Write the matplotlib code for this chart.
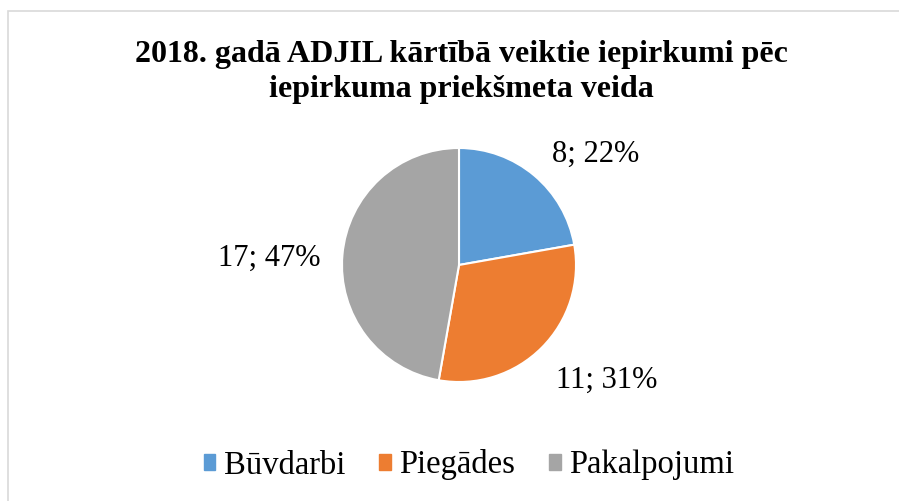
import matplotlib
matplotlib.use("Agg")
import matplotlib.pyplot as plt
from matplotlib.patches import Rectangle
import numpy as np

categories = ["Būvdarbi", "Piegādes", "Pakalpojumi"]
values = [8, 11, 17]
title_lines = ["2018. gadā ADJIL kārtībā veiktie iepirkumi pēc",
               "iepirkuma priekšmeta veida"]

colors = ["#5B9BD5", "#ED7D31", "#A5A5A5"]
# label placement (angle in degrees, radius in pie radii) - layout only
label_pos = [(39, 1.50), (-38, 1.60), (178, 1.62)]

W, H = 899, 501
fig = plt.figure(figsize=(W / 100, H / 100), dpi=100)
serif = ["Liberation Serif", "DejaVu Serif"]

# chart border (left and top visible)
fig.patches.append(Rectangle((8 / W, -0.1), 1.2, (H - 11) / H + 0.1,
                             transform=fig.transFigure, fill=False,
                             edgecolor="#D9D9D9", linewidth=1.2))

cx, cy, r = 459, 265, 117
ax = fig.add_axes([(cx - r) / W, (H - cy - r) / H, 2 * r / W, 2 * r / H])
wedges, _ = ax.pie(values, colors=colors, startangle=90, counterclock=False,
                   wedgeprops=dict(edgecolor="white", linewidth=1.5), radius=1)
ax.set_xlim(-1, 1)
ax.set_ylim(-1, 1)
ax.set_aspect("equal")
ax.axis("off")

total = sum(values)
for v, (ang, dist) in zip(values, label_pos):
    a = np.deg2rad(ang)
    ax.text(dist * np.cos(a), dist * np.sin(a), f"{v}; {round(100 * v / total)}%",
            ha="center", va="center", fontsize=22, family=serif, color="#000000",
            clip_on=False)

for line, yb in zip(title_lines, [62, 97]):
    fig.text(461 / W, 1 - yb / H, line, ha="center", va="baseline", fontsize=23,
             fontweight="bold", family=serif)

handles = [Rectangle((0, 0), 1, 1, color=c) for c in colors]
fig.legend(handles, categories, loc="center", bbox_to_anchor=(469 / W, 1 - 465 / H),
           ncol=3, frameon=False, prop=dict(family=serif, size=23.5),
           handlelength=0.36, handleheight=0.36, handletextpad=0.25,
           columnspacing=1.05, borderpad=0, borderaxespad=0)

fig.savefig("out.png", dpi=100, facecolor="white")
